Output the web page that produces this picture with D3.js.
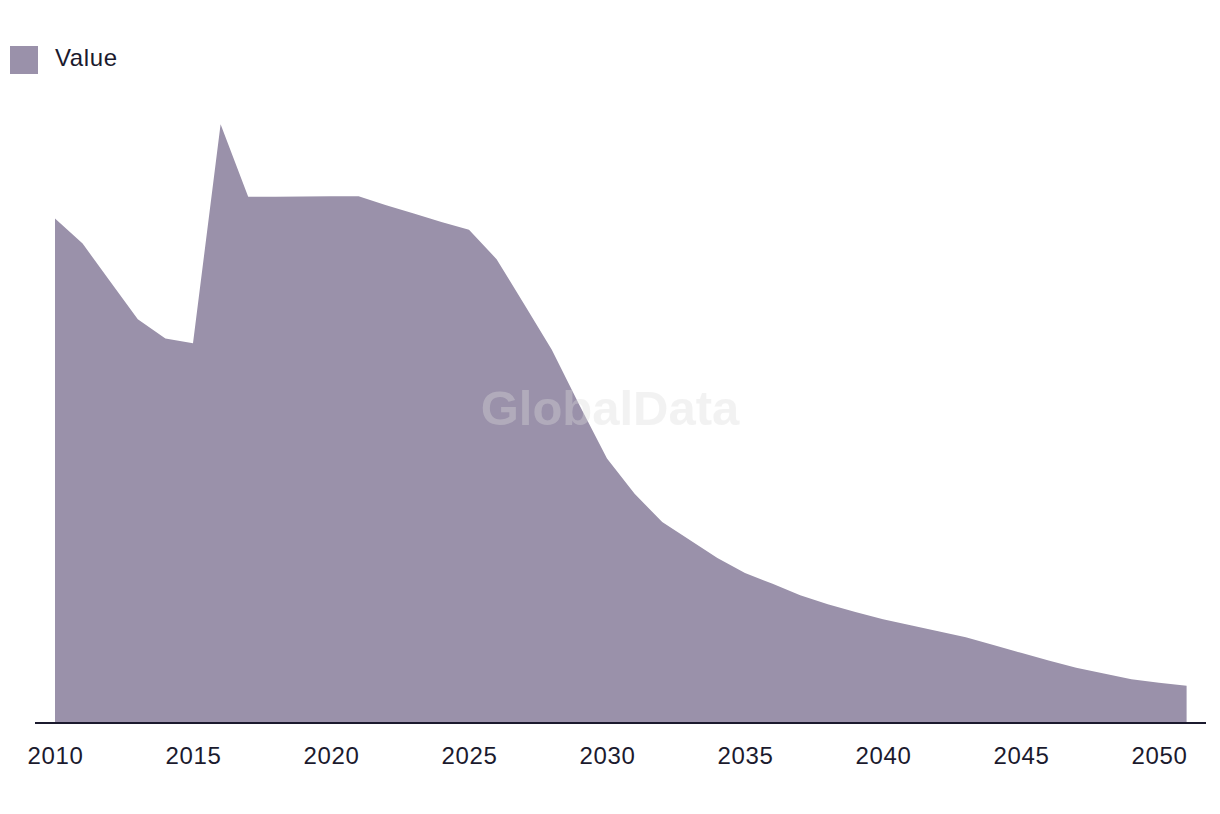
<!DOCTYPE html>
<html>
<head>
<meta charset="utf-8">
<script src="https://cdn.jsdelivr.net/npm/d3@7"></script>
<style>
  html, body { margin: 0; padding: 0; background: #ffffff; }
  svg { display: block; }
</style>
</head>
<body>
<svg id="chart" width="1220" height="814"></svg>
<script>
const years = d3.range(2010, 2052);
const values = [
  84.1, 79.9, 73.6, 67.3, 64.1, 63.3, 99.8, 87.7, 87.7, 87.75,
  87.8, 87.8, 86.3, 84.9, 83.5, 82.2, 77.3, 69.8, 62.2, 53.0,
  44.1, 38.2, 33.5, 30.5, 27.5, 25.0, 23.2, 21.3, 19.8, 18.5,
  17.3, 16.3, 15.3, 14.3, 13.0, 11.7, 10.4, 9.2, 8.25, 7.3,
  6.7, 6.2
];
const tickYears = [2010, 2015, 2020, 2025, 2030, 2035, 2040, 2045, 2050];
const seriesName = "Value";

const svg = d3.select("#chart");
const fill = "#9a91aa";
const textColor = "#1b1a2e";

const x = d3.scaleLinear().domain([2010, 2050]).range([55, 1159]);
const y = d3.scaleLinear().domain([0, 100]).range([723, 123]);

const data = years.map((yr, i) => ({ year: yr, value: values[i] }));

const area = d3.area()
  .x(d => x(d.year))
  .y0(y(0))
  .y1(d => y(d.value));

svg.append("path")
  .datum(data)
  .attr("d", area)
  .attr("fill", fill);

// watermark
svg.append("text")
  .attr("x", 610)
  .attr("y", 425)
  .attr("text-anchor", "middle")
  .attr("font-family", "Liberation Sans, Arial, sans-serif")
  .attr("font-weight", "bold")
  .attr("font-size", 49)
  .attr("fill", "#dcdcdc")
  .attr("opacity", 0.35)
  .text("GlobalData");

// x axis
const axis = svg.append("g").attr("transform", `translate(0,${y(0)})`)
  .call(d3.axisBottom(x).tickValues(tickYears).tickFormat(d3.format("d")).tickSize(0).tickPadding(24));
axis.select(".domain").remove();
axis.append("line")
  .attr("x1", 35).attr("x2", 1206)
  .attr("y1", 0).attr("y2", 0)
  .attr("stroke", textColor).attr("stroke-width", 2);
axis.selectAll(".tick text")
  .attr("font-family", "Liberation Sans, Arial, sans-serif")
  .attr("font-size", 24)
  .attr("letter-spacing", "0.6px")
  .attr("fill", textColor);

// legend
svg.append("rect")
  .attr("x", 10).attr("y", 46).attr("width", 28).attr("height", 28)
  .attr("fill", fill);
svg.append("text")
  .attr("x", 55).attr("y", 66)
  .attr("font-family", "Liberation Sans, Arial, sans-serif")
  .attr("font-size", 24)
  .attr("letter-spacing", "0.6px")
  .attr("fill", textColor)
  .text(seriesName);
</script>
</body>
</html>
